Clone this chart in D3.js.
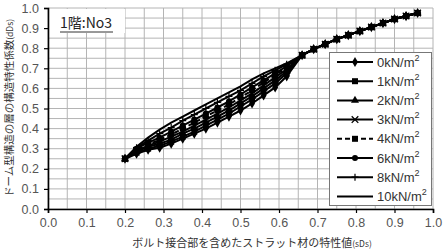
<!DOCTYPE html>
<html>
<head>
<meta charset="utf-8">
<script src="https://cdn.jsdelivr.net/npm/d3@7"></script>
<style>
    body { margin: 0; background: #fff; }
    text { font-family: "Liberation Sans", "Noto Sans CJK JP", sans-serif; }
    .jp { font-family: "Noto Sans CJK JP", sans-serif; }
</style>
</head>
<body>
<script>
// data
var seriesNames = ["0kN/m", "1kN/m", "2kN/m", "3kN/m", "4kN/m", "6kN/m", "8kN/m", "10kN/m"];
var markers = ["diamond", "square", "triangle", "cross", "square", "circle", "plus", "none"];

var fanX = [0.20, 0.23, 0.26, 0.29, 0.32, 0.35, 0.38, 0.41, 0.44, 0.47, 0.50, 0.53, 0.56, 0.59, 0.62];
var y0kN  = [0.25, 0.275, 0.295, 0.305, 0.325, 0.35, 0.375, 0.40, 0.43, 0.46, 0.49, 0.525, 0.565, 0.605, 0.66];
var y1kN  = [0.25, 0.28, 0.30, 0.315, 0.335, 0.36, 0.385, 0.415, 0.445, 0.475, 0.51, 0.545, 0.585, 0.625, 0.675];
var y2kN  = [0.25, 0.285, 0.31, 0.325, 0.345, 0.375, 0.40, 0.43, 0.46, 0.49, 0.525, 0.56, 0.60, 0.64, 0.685];
var y3kN  = [0.25, 0.29, 0.315, 0.335, 0.36, 0.385, 0.415, 0.445, 0.475, 0.505, 0.54, 0.575, 0.615, 0.655, 0.695];
var y4kN  = [0.25, 0.295, 0.32, 0.345, 0.37, 0.40, 0.43, 0.46, 0.49, 0.52, 0.555, 0.59, 0.63, 0.665, 0.705];
var y6kN  = [0.25, 0.30, 0.33, 0.355, 0.385, 0.415, 0.445, 0.475, 0.505, 0.535, 0.57, 0.605, 0.64, 0.675, 0.71];
var y8kN  = [0.25, 0.305, 0.34, 0.375, 0.405, 0.44, 0.47, 0.50, 0.53, 0.56, 0.59, 0.625, 0.66, 0.69, 0.72];
var y10kN = [0.25, 0.31, 0.355, 0.395, 0.43, 0.46, 0.49, 0.52, 0.55, 0.58, 0.61, 0.645, 0.675, 0.70, 0.725];
var fanY = [y0kN, y1kN, y2kN, y3kN, y4kN, y6kN, y8kN, y10kN];

// all curves merge into one path near the top
var tailX = [0.66, 0.69, 0.72, 0.75, 0.78, 0.81, 0.84, 0.87, 0.90, 0.93, 0.96];
var tailY = [0.765, 0.795, 0.82, 0.845, 0.865, 0.885, 0.905, 0.925, 0.945, 0.96, 0.975];

var tickVals = [0, 0.1, 0.2, 0.3, 0.4, 0.5, 0.6, 0.7, 0.8, 0.9, 1.0];

var W = 444, H = 250;
var svg = d3.select("body").append("svg").attr("width", W).attr("height", H);

var x = d3.scaleLinear().domain([0, 1]).range([48, 433]);
var y = d3.scaleLinear().domain([0, 1]).range([209, 8]);

// grid
var minor = d3.range(0, 1.0001, 0.05);
svg.append("g").selectAll("line.gx").data(minor).enter().append("line")
    .attr("x1", d => x(d)).attr("x2", d => x(d))
    .attr("y1", y(0)).attr("y2", y(1))
    .attr("stroke", "#b4b4b4").attr("stroke-width", 1);
svg.append("g").selectAll("line.gy").data(minor).enter().append("line")
    .attr("y1", d => y(d)).attr("y2", d => y(d))
    .attr("x1", x(0)).attr("x2", x(1))
    .attr("stroke", "#b4b4b4").attr("stroke-width", 1);

// title box (hides the grid behind it)
svg.append("rect").attr("x", 49).attr("y", 9).attr("width", 76).attr("height", 24).attr("fill", "#fff");
svg.append("text").attr("class", "jp").attr("x", 60).attr("y", 28)
    .attr("font-size", 14).attr("fill", "#222").text("1階:No3");
svg.append("line").attr("x1", 60).attr("x2", 113).attr("y1", 32).attr("y2", 32)
    .attr("stroke", "#333").attr("stroke-width", 1);

// axes
var xAxis = svg.append("g").attr("transform", "translate(0," + y(0) + ")")
    .call(d3.axisBottom(x).tickValues(tickVals).tickFormat(d3.format(".1f")).tickSize(4).tickPadding(5));
var yAxis = svg.append("g").attr("transform", "translate(" + x(0) + ",0)")
    .call(d3.axisLeft(y).tickValues(tickVals).tickFormat(d3.format(".1f")).tickSize(4).tickPadding(5));
[xAxis, yAxis].forEach(function (a) {
    a.select(".domain").attr("stroke", "#000").attr("stroke-width", 1.6);
    a.selectAll(".tick line").attr("stroke", "#000").attr("stroke-width", 1.2);
    a.selectAll(".tick text").attr("font-size", 12.5).attr("fill", "#555")
        .attr("font-family", "'Liberation Sans', sans-serif");
});

// symbols
function drawMarker(g, type, cx, cy) {
    if (type === "diamond") {
        g.append("path").attr("d", d3.symbol(d3.symbolDiamond, 30)()).attr("transform", "translate(" + cx + "," + cy + ")").attr("fill", "#000");
    } else if (type === "square") {
        g.append("rect").attr("x", cx - 3).attr("y", cy - 3).attr("width", 6).attr("height", 6).attr("fill", "#000");
    } else if (type === "triangle") {
        g.append("path").attr("d", d3.symbol(d3.symbolTriangle, 28)()).attr("transform", "translate(" + cx + "," + cy + ")").attr("fill", "#000");
    } else if (type === "cross") {
        g.append("path").attr("d", d3.symbol(d3.symbolX, 30)()).attr("transform", "translate(" + cx + "," + cy + ")")
            .attr("fill", "none").attr("stroke", "#000").attr("stroke-width", 1.3);
    } else if (type === "circle") {
        g.append("circle").attr("cx", cx).attr("cy", cy).attr("r", 3).attr("fill", "#000");
    } else if (type === "plus") {
        g.append("path").attr("d", "M" + (cx - 3.5) + "," + cy + "H" + (cx + 3.5) + "M" + cx + "," + (cy - 3.5) + "V" + (cy + 3.5))
            .attr("stroke", "#000").attr("stroke-width", 1.2);
    }
}

var line = d3.line().x(d => x(d[0])).y(d => y(d[1]));
var plot = svg.append("g");
seriesNames.forEach(function (name, i) {
    var pts = fanX.map((v, j) => [v, fanY[i][j]]).concat(tailX.map((v, j) => [v, tailY[j]]));
    var g = plot.append("g");
    g.append("path").datum(pts).attr("d", line).attr("fill", "none")
        .attr("stroke", "#000").attr("stroke-width", 2)
        .attr("stroke-dasharray", i === 4 ? "5,3" : null);
    pts.forEach(p => drawMarker(g, markers[i], x(p[0]), y(p[1])));
});

// legend
var lg = svg.append("g");
lg.append("rect").attr("x", 329.5).attr("y", 52.5).attr("width", 102).attr("height", 153)
    .attr("fill", "#fff").attr("stroke", "#777").attr("stroke-width", 1);
seriesNames.forEach(function (name, i) {
    var ly = 62 + i * 19.2;
    lg.append("line").attr("x1", 337).attr("x2", 373).attr("y1", ly).attr("y2", ly)
        .attr("stroke", "#000").attr("stroke-width", 2)
        .attr("stroke-dasharray", i === 4 ? "5,3" : null);
    drawMarker(lg, markers[i], 355, ly);
    var t = lg.append("text").attr("x", 377).attr("y", ly + 4.5).attr("font-size", 13).attr("fill", "#333")
        .attr("font-family", "'Liberation Sans', sans-serif");
    t.append("tspan").text(name);
    t.append("tspan").attr("font-size", 9).attr("dy", -6).text("2");
});

// axis titles
svg.append("text").attr("class", "jp").attr("x", 252).attr("y", 247).attr("text-anchor", "middle")
    .attr("font-size", 11).attr("fill", "#333")
    .call(t => {
        t.append("tspan").text("ボルト接合部を含めたストラット材の特性値");
        t.append("tspan").attr("font-size", 8.5).text("(sDs)");
    });
svg.append("text").attr("class", "jp").attr("transform", "translate(13,108) rotate(-90)")
    .attr("text-anchor", "middle").attr("font-size", 10.5).attr("fill", "#333")
    .call(t => {
        t.append("tspan").text("ドーム型構造の層の構造特性係数");
        t.append("tspan").attr("font-size", 8.5).text("(dDs)");
    });
</script>
</body>
</html>
